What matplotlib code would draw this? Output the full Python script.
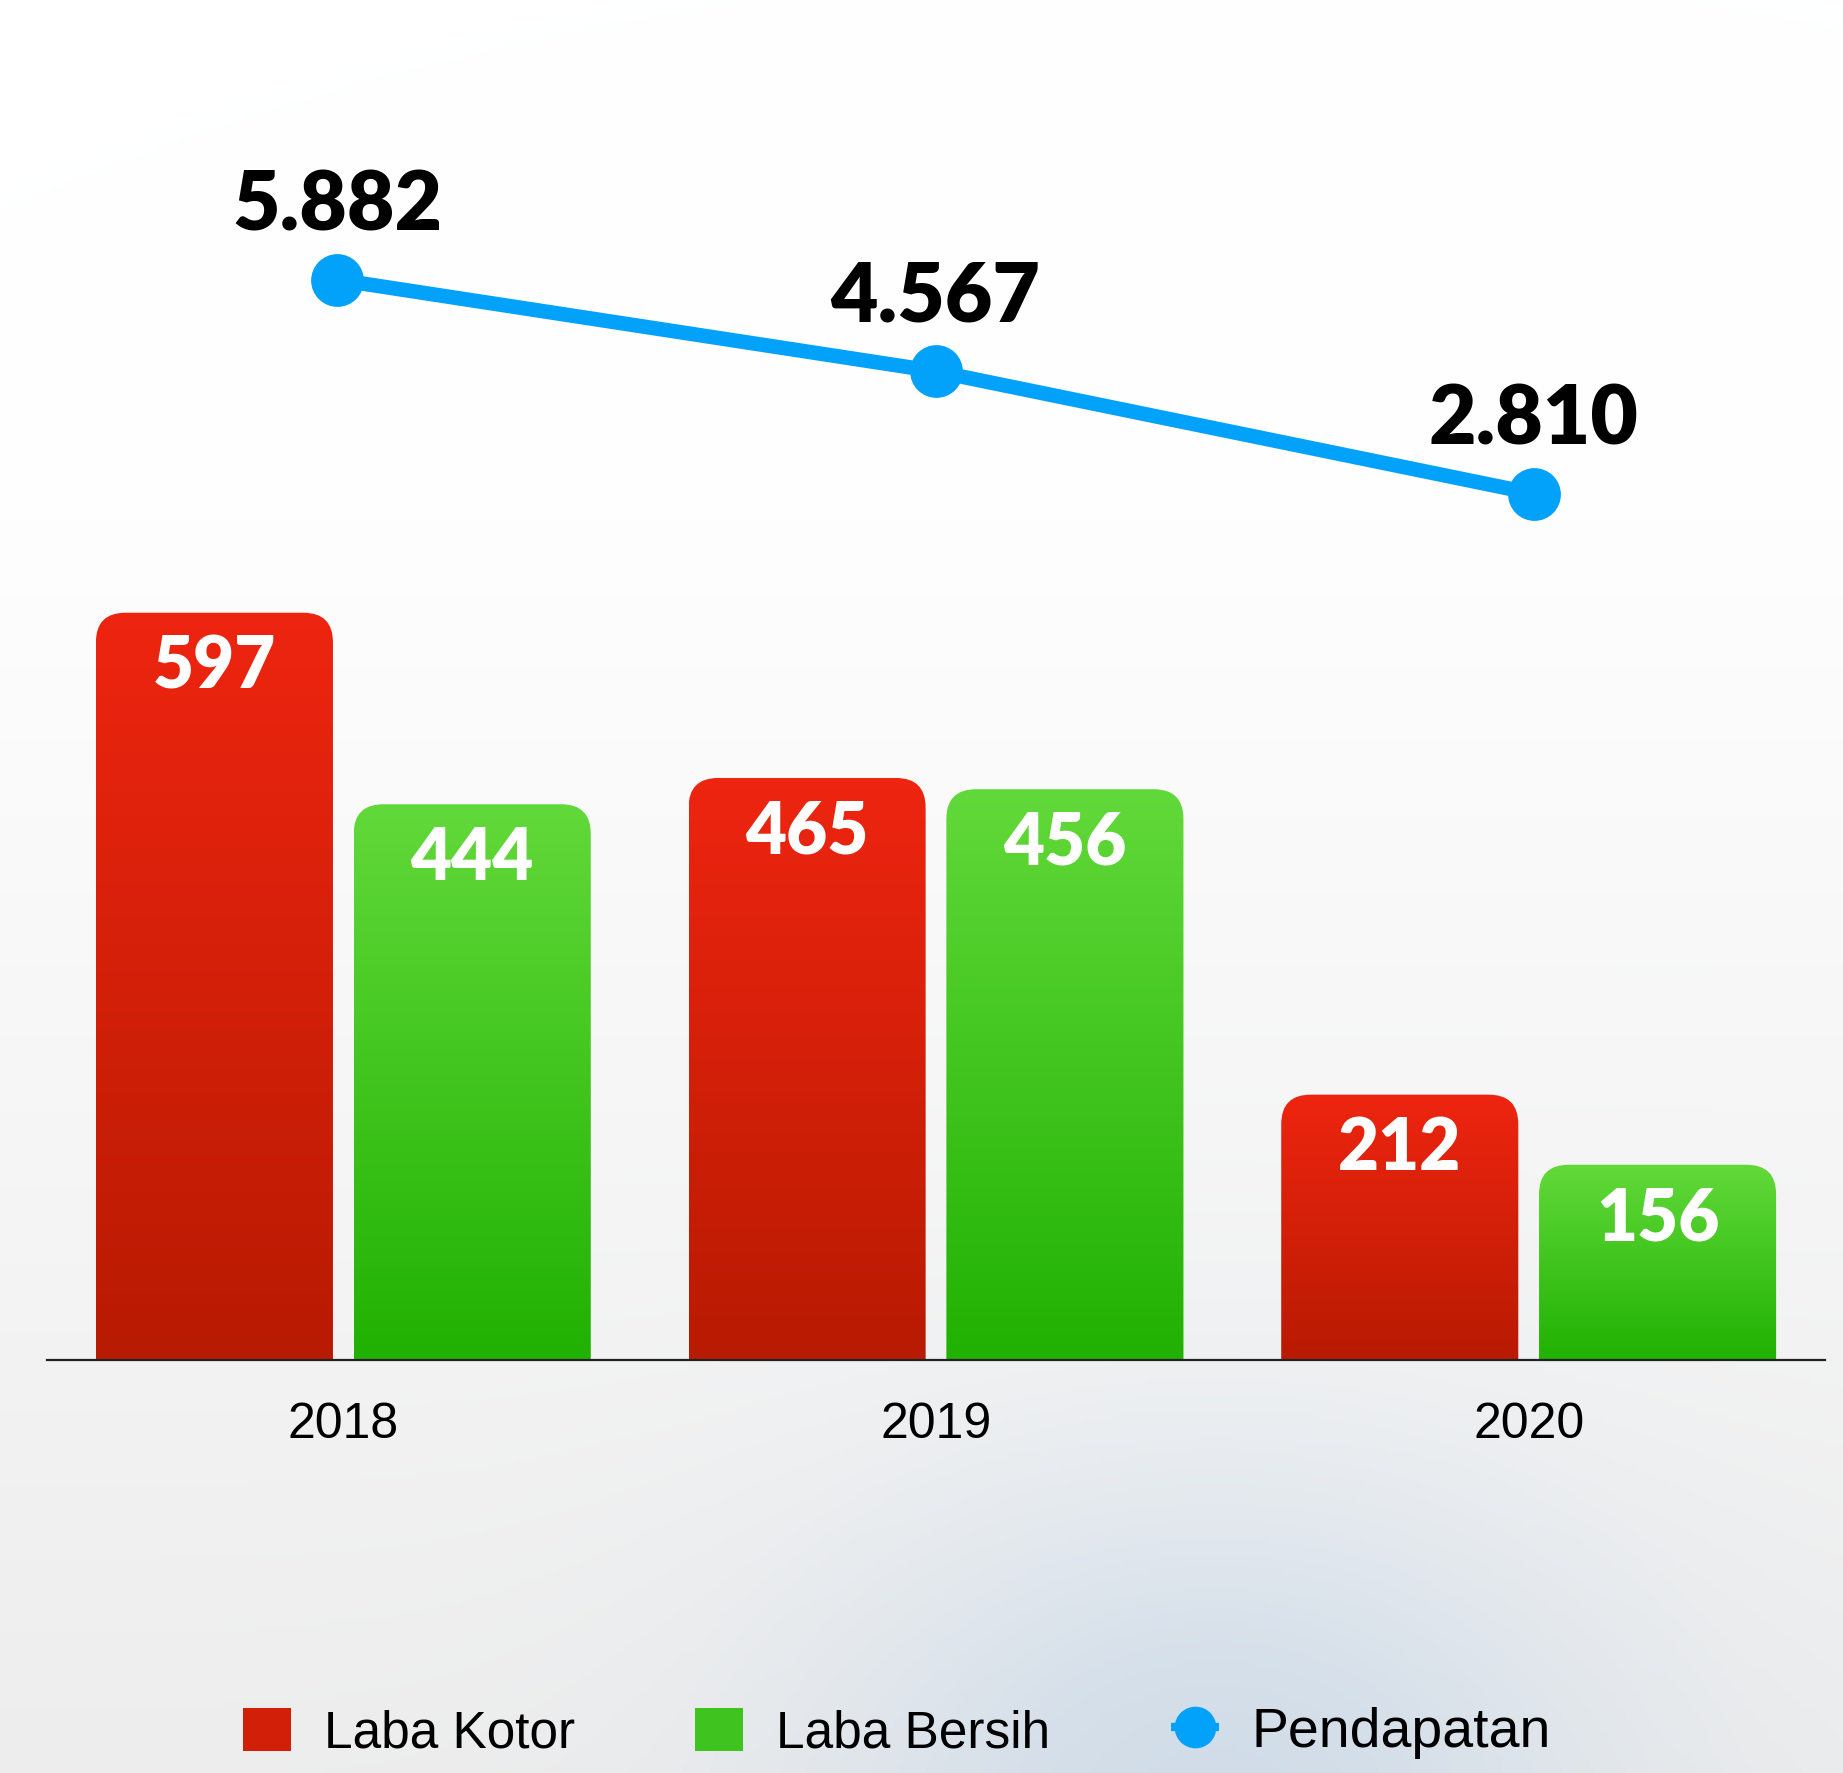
import numpy as np
import matplotlib.pyplot as plt
from matplotlib.patches import FancyBboxPatch, Patch
from matplotlib.lines import Line2D
from matplotlib.colors import LinearSegmentedColormap

# data
years = ["2018", "2019", "2020"]
laba_kotor = [597, 465, 212]
laba_bersih = [444, 456, 156]
pendapatan = [5882, 4567, 2810]
pendapatan_labels = ["5.882", "4.567", "2.810"]

RED_TOP, RED_BOT = "#EE2510", "#B81A02"
GREEN_TOP, GREEN_BOT = "#62D93A", "#20B102"
BLUE = "#03A2FA"

W, H = 1843, 1773
fig = plt.figure(figsize=(W / 100, H / 100), dpi=100)

# soft background: white at top, pale grey / icy blue towards the bottom
bg = fig.add_axes([0, 0, 1, 1], zorder=0)
yy = np.linspace(0, 1, 400)[:, None]
xx = np.linspace(0, 1, 400)[None, :]
t = np.clip((yy - 0.25) / 0.75, 0, 1)
base = 1 - 0.07 * t
blob = np.exp(-((xx - 0.66) ** 2 / 0.05 + (yy - 1.0) ** 2 / 0.03))
img = np.dstack([base - 0.11 * blob + 0 * xx, base - 0.065 * blob, base - 0.02 * blob])
img = np.clip(img, 0, 1)
bg.imshow(img, extent=[0, 1, 0, 1], origin="upper", aspect="auto")
bg.axis("off")

# bars
rect = [47 / W, (H - 1360) / H, (1825 - 47) / W, 1360 / H]
ax = fig.add_axes(rect, zorder=1)
ax.patch.set_alpha(0)
x = np.arange(len(years))
px_per_unit = 1.2517
ymax = 1360 / px_per_unit

red_bars = ax.bar(x - 0.2175, laba_kotor, 0.40, color="none")
green_bars = ax.bar(x + 0.2175, laba_bersih, 0.40, color="none")


def gradient_bar(rect, top, bottom):
    x0, w, h = rect.get_x(), rect.get_width(), rect.get_height()
    clip = FancyBboxPatch((x0, -40), w, h + 40,
                          boxstyle="round,pad=0,rounding_size=0.05",
                          mutation_aspect=473, fc="none", ec="none")
    ax.add_patch(clip)
    cmap = LinearSegmentedColormap.from_list("g", [bottom, top])
    grad = np.linspace(0, 1, 256)[:, None]
    im = ax.imshow(grad, extent=[x0, x0 + w, 0, h], origin="lower",
                   cmap=cmap, aspect="auto", zorder=2)
    im.set_clip_path(clip)
    ax.annotate(f"{int(h)}", (x0 + w / 2, h), xytext=(0, -54.5),
                textcoords="offset points", ha="center", va="baseline",
                color="white", fontsize=51, fontweight="heavy",
                family=["Lato", "DejaVu Sans"], zorder=3)


for r in red_bars:
    gradient_bar(r, RED_TOP, RED_BOT)
for r in green_bars:
    gradient_bar(r, GREEN_TOP, GREEN_BOT)

ax.set_xlim(-0.5, 2.5)
ax.set_ylim(0, ymax)
ax.set_xticks(x, years)
ax.tick_params(axis="x", length=0, pad=30, labelsize=36)
for lab in ax.get_xticklabels():
    lab.set_family(["Liberation Sans", "DejaVu Sans"])
ax.set_yticks([])
for s in ["top", "left", "right"]:
    ax.spines[s].set_visible(False)
ax.spines["bottom"].set_linewidth(1.6)
ax.spines["bottom"].set_color("#222222")

# revenue line
ax2 = fig.add_axes(rect, zorder=3)
ax2.patch.set_alpha(0)
ax2.plot(x, pendapatan, color=BLUE, lw=10.5, marker="o", ms=38, mew=0,
         solid_capstyle="round")
for xi, v, lab in zip(x, pendapatan, pendapatan_labels):
    ax2.annotate(lab, (xi, v), xytext=(0, 35.6), textcoords="offset points",
                 ha="center", va="baseline", fontsize=59, fontweight="heavy",
                 family=["Lato", "DejaVu Sans"], color="black")
ax2.set_xlim(-0.485, 2.4865)
ax2.set_ylim(-9627, 9897)
ax2.axis("off")

# legend
handles = [
    Patch(facecolor="#D21F08", edgecolor="none"),
    Patch(facecolor="#3FC41F", edgecolor="none"),
    Line2D([], [], color=BLUE, lw=6, marker="o", ms=30, mew=0,
           solid_capstyle="butt"),
]
leg = fig.legend(handles, ["Laba Kotor", "Laba Bersih", "Pendapatan"],
                 loc="center", bbox_to_anchor=(897 / W, 40 / H), ncol=3,
                 frameon=False, prop={"family": ["Liberation Sans"], "size": 37},
                 handlelength=0.93, handleheight=0.9, handletextpad=0.64,
                 columnspacing=2.35)
leg.get_texts()[2].set_fontsize(40)

fig.savefig("out.png", dpi=100)
